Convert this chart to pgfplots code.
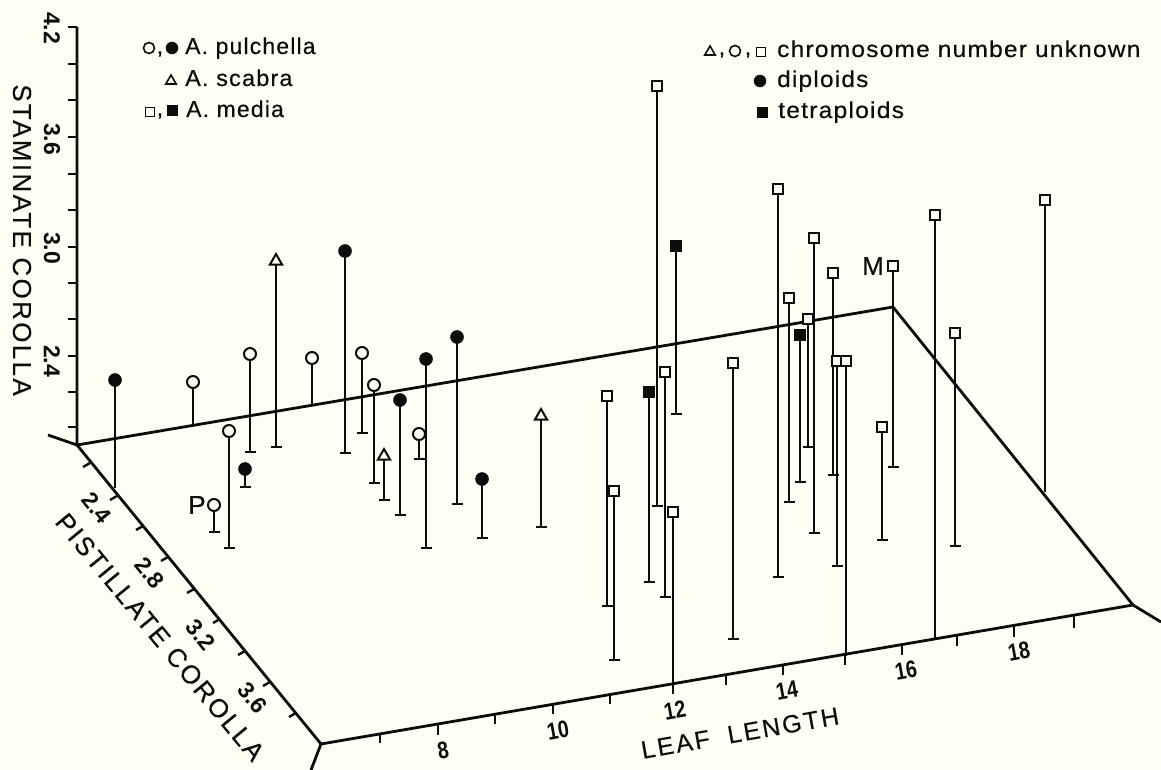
\documentclass[border=0pt]{standalone}
\usepackage{pgfplots}
\usepackage{pgfplotstable}
\usepackage{fontspec}
\usepackage{graphicx}
\pgfplotsset{compat=1.18}
\setmainfont{Liberation Sans}
\newfontfamily\spaced[LetterSpace=5,FakeBold=0.35]{Liberation Sans}
\newfontfamily\axlab[LetterSpace=9,FakeBold=0.25]{Liberation Sans}
\definecolor{bgc}{HTML}{FFFEF5}
\definecolor{ink}{HTML}{0C0C0C}
% x, top of stem (pixel positions)
\pgfplotstableread{
x top
115 380
345 251
245 469
400 400
426 359
457 337
482 479
}\filledcirc
\pgfplotstableread{
x top
193 382
250 354
312 358
229 431
214 505
362 353
374 385
419 434
}\opencirc
\pgfplotstableread{
x top
276 261
384 456
541 416
}\opentri
\pgfplotstableread{
x top
657 86
607 396
614 491
665 372
673 512
733 363
778 189
789 298
808 319
814 238
833 273
837 361
846 361
882 427
893 266
935 215
955 333
1045 200
}\opensq
\pgfplotstableread{
x top
649 392
676 246
800 335
}\filledsq
\pgfplotstableread{
x y
345 453
250 452
276 447
245 487
214 532
229 548
362 433
374 483
384 500
400 515
419 459
426 548
457 504
482 538
541 527
657 506
607 606
614 660
665 597
733 639
778 577
789 502
808 447
814 533
833 475
837 566
882 540
893 467
955 546
649 582
676 414
800 482
}\feet
\begin{document}
\begin{tikzpicture}[x=1pt,y=1pt]
\fill[bgc] (0,0) rectangle (1161,770);
\begin{axis}[
  at={(0,0)},anchor=south west,
  scale only axis,width=1161pt,height=770pt,
  xmin=0,xmax=1161,ymin=0,ymax=770,y dir=reverse,
  hide axis,unbounded coords=jump,
  every axis plot/.append style={ink},
]
% frame
\addplot[line width=2.8pt,mark=none] coordinates {
 (48,435) (77,445) (893,307) (1133,605) (321,744) (77,445) (nan,nan)
 (311,770) (321,744) (nan,nan) (1133,605) (1161,622) (nan,nan) (77,445) (77,27)};
% vertical axis ticks
\addplot[line width=2.4pt,mark=none] coordinates {
 (68,27)(77,27)(nan,nan)(68,64)(77,64)(nan,nan)(68,100)(77,100)(nan,nan)
 (68,137)(77,137)(nan,nan)(68,174)(77,174)(nan,nan)(68,210)(77,210)(nan,nan)
 (68,247)(77,247)(nan,nan)(68,283)(77,283)(nan,nan)(68,319)(77,319)(nan,nan)
 (68,356)(77,356)(nan,nan)(68,392)(77,392)(nan,nan)(68,427)(77,427)};
% pistillate axis ticks
\addplot[line width=2.4pt,mark=none] coordinates {
 (90,463)(83,467)(nan,nan)(117,496)(110,500)(nan,nan)(143,526)(136,530)(nan,nan)
 (168,557)(161,561)(nan,nan)(194,589)(187,593)(nan,nan)(220,619)(213,623)(nan,nan)
 (245,651)(238,655)(nan,nan)(270,682)(263,686)(nan,nan)(296,713)(289,717)};
% leaf length ticks
\addplot[line width=2.4pt,mark=none] coordinates {
 (380,734)(380,743)(nan,nan)(438,725)(438,735)(nan,nan)(495,715)(495,724)(nan,nan)
 (553,705)(553,714)(nan,nan)(610,695)(610,704)(nan,nan)(673,684)(673,694)(nan,nan)
 (726,675)(726,685)(nan,nan)(783,665)(783,675)(nan,nan)(845,655)(845,665)(nan,nan)
 (902,645)(902,655)(nan,nan)(957,636)(957,646)(nan,nan)(1014,626)(1014,637)(nan,nan)
 (1074,616)(1074,628)};
% stems
\addplot[line width=2.4pt,mark=none] coordinates {
 (115,380)(115,488)(nan,nan)(345,251)(345,453)(nan,nan)(245,469)(245,487)(nan,nan)
 (400,400)(400,515)(nan,nan)(426,359)(426,548)(nan,nan)(457,337)(457,504)(nan,nan)
 (482,479)(482,538)(nan,nan)
 (193,382)(193,425)(nan,nan)(250,354)(250,452)(nan,nan)(312,358)(312,405)(nan,nan)
 (229,431)(229,548)(nan,nan)(214,505)(214,532)(nan,nan)(362,353)(362,433)(nan,nan)
 (374,385)(374,483)(nan,nan)(419,434)(419,459)(nan,nan)
 (276,261)(276,447)(nan,nan)(384,456)(384,500)(nan,nan)(541,416)(541,527)(nan,nan)
 (657,86)(657,506)(nan,nan)(607,396)(607,606)(nan,nan)(614,491)(614,660)(nan,nan)
 (665,372)(665,597)(nan,nan)(673,512)(673,685)(nan,nan)(733,363)(733,639)(nan,nan)
 (778,189)(778,577)(nan,nan)(789,298)(789,502)(nan,nan)(808,319)(808,447)(nan,nan)
 (814,238)(814,533)(nan,nan)(833,273)(833,475)(nan,nan)(837,361)(837,566)(nan,nan)
 (846,361)(846,656)(nan,nan)(882,427)(882,540)(nan,nan)(893,266)(893,467)(nan,nan)
 (935,215)(935,640)(nan,nan)(955,333)(955,546)(nan,nan)(1045,200)(1045,492)(nan,nan)
 (649,392)(649,582)(nan,nan)(676,246)(676,414)(nan,nan)(800,335)(800,482)};
% feet
\addplot[only marks,mark=-,mark size=5.5pt,mark options={line width=2.4pt,ink}] table[x=x,y=y] {\feet};
% points
\addplot[only marks,mark=*,mark size=6.5pt,mark options={fill=ink,draw=ink,line width=0.5pt}] table[x=x,y=top] {\filledcirc};
\addplot[only marks,mark=*,mark size=6pt,mark options={fill=bgc,draw=ink,line width=2pt}] table[x=x,y=top] {\opencirc};
\addplot[only marks,mark=triangle*,mark size=7pt,mark options={fill=bgc,draw=ink,line width=2pt}] table[x=x,y=top] {\opentri};
\addplot[only marks,mark=square*,mark size=5pt,mark options={fill=bgc,draw=ink,line width=2pt}] table[x=x,y=top] {\opensq};
\addplot[only marks,mark=square*,mark size=5.3pt,mark options={fill=ink,draw=ink,line width=0.5pt}] table[x=x,y=top] {\filledsq};
% legend markers
\addplot[only marks,mark=*,mark size=5.5pt,mark options={fill=bgc,draw=ink,line width=1.6pt}] coordinates {(149,48)(735,51)};
\addplot[only marks,mark=*,mark size=6pt,mark options={fill=ink,draw=ink,line width=0.5pt}] coordinates {(172,48)(760,81)};
\addplot[only marks,mark=triangle*,mark size=6pt,mark options={fill=bgc,draw=ink,line width=1.6pt}] coordinates {(171,81)(710,52)};
\addplot[only marks,mark=square*,mark size=4.6pt,mark options={fill=bgc,draw=ink,line width=1.6pt}] coordinates {(150,112)(761,52)};
\addplot[only marks,mark=square*,mark size=5.2pt,mark options={fill=ink,draw=ink,line width=0.5pt}] coordinates {(172,110)(762,112)};
% legend text
\def\legf{\fontsize{23}{26}\spaced\color{ink}}
\node[anchor=base west,inner sep=0] at (axis cs:185,54) {\legf A. pulchella};
\node[anchor=base west,inner sep=0] at (axis cs:185,86) {\legf\scalebox{1.02}[1]{A. scabra}};
\node[anchor=base west,inner sep=0] at (axis cs:186,117) {\legf A. media};
\node[anchor=base west,inner sep=0] at (axis cs:777,57) {\legf\scalebox{1.065}[1]{chromosome number unknown}};
\node[anchor=base west,inner sep=0] at (axis cs:777,87) {\legf\scalebox{1.06}[1]{diploids}};
\node[anchor=base west,inner sep=0] at (axis cs:778,118) {\legf\scalebox{1.07}[1]{tetraploids}};
\node[inner sep=0] at (axis cs:160,54) {\legf ,};
\node[inner sep=0] at (axis cs:722,55) {\legf ,};
\node[inner sep=0] at (axis cs:748,55) {\legf ,};
\node[inner sep=0] at (axis cs:160,116) {\legf ,};
% point labels
\node[inner sep=0] at (axis cs:197,505) {\fontsize{26}{28}\spaced\color{ink} P};
\node[inner sep=0] at (axis cs:873,266) {\fontsize{26}{28}\spaced\color{ink} M};
% axis titles
\def\axf{\fontsize{26}{28}\axlab\color{ink}}
\node[rotate=-90,inner sep=0] at (axis cs:22,240) {\axf STAMINATE COROLLA};
\node[rotate=-50.5,inner sep=0] at (axis cs:160,637) {\axf PISTILLATE COROLLA};
\node[rotate=10,inner sep=0] at (axis cs:740,733) {\fontsize{25}{28}\axlab\color{ink} LEAF\ \ LENGTH};
% tick labels
\def\tkf{\fontsize{23}{24}\selectfont\bfseries\color{ink}}
\node[rotate=-90,inner sep=0] at (axis cs:52,28) {\tkf 4.2};
\node[rotate=-90,inner sep=0] at (axis cs:52,139) {\tkf 3.6};
\node[rotate=-90,inner sep=0] at (axis cs:52,248) {\tkf 3.0};
\node[rotate=-90,inner sep=0] at (axis cs:52,361) {\tkf 2.4};
\node[rotate=-50.5,inner sep=0] at (axis cs:97,508) {\tkf 2.4};
\node[rotate=-50.5,inner sep=0] at (axis cs:150,573) {\tkf 2.8};
\node[rotate=-50.5,inner sep=0] at (axis cs:201,635) {\tkf 3.2};
\node[rotate=-50.5,inner sep=0] at (axis cs:253,698) {\tkf 3.6};
\def\ft#1{\scalebox{0.82}[1]{\fontsize{24}{24}\selectfont\bfseries\color{ink}#1}}
\node[rotate=10,inner sep=0] at (axis cs:443,750) {\ft{8}};
\node[rotate=10,inner sep=0] at (axis cs:558,730) {\ft{10}};
\node[rotate=10,inner sep=0] at (axis cs:675,710) {\ft{12}};
\node[rotate=10,inner sep=0] at (axis cs:787,690) {\ft{14}};
\node[rotate=10,inner sep=0] at (axis cs:906,670) {\ft{16}};
\node[rotate=10,inner sep=0] at (axis cs:1019,651) {\ft{18}};
\end{axis}
\end{tikzpicture}
\end{document}
